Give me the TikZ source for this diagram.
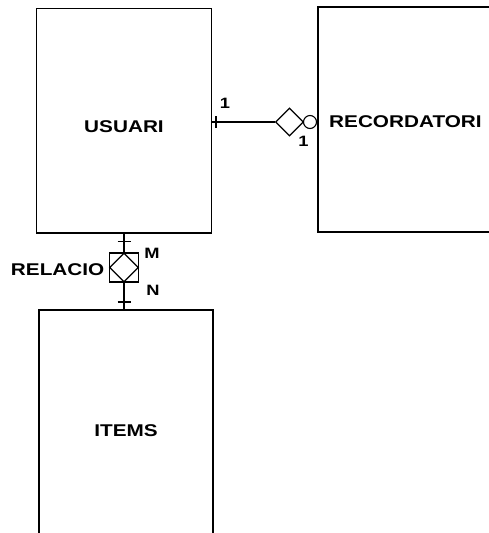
\documentclass[tikz,border=0pt]{standalone}
\usepackage{fontspec}
\setmainfont{Liberation Sans}
\newfontfamily\erfont{Liberation Sans}[FakeStretch=1.22]
\usetikzlibrary{shapes.geometric}
\begin{document}
\begin{tikzpicture}[x=1pt,y=-1pt,
  ln/.style={line width=1.1pt},
  ent/.style={draw, ln, inner sep=0pt},
  rel/.style={draw, ln, diamond, inner sep=0pt, aspect=1},
  lbl/.style={inner sep=0pt, font=\erfont\bfseries\fontsize{17}{20}\selectfont},
  card/.style={inner sep=0pt, font=\erfont\bfseries\fontsize{15}{18}\selectfont}]
\useasboundingbox (0,0) rectangle (489,533);
\fill[white] (0,0) rectangle (489,533);
\clip (0,0) rectangle (489,533);
% entities
\node[ent, minimum width=175pt, minimum height=224.5pt] (usuari) at (124,120.75) {};
\node[ent, minimum width=182pt, minimum height=225pt] (recor) at (409,119.5) {};
\node[ent, minimum width=174pt, minimum height=250pt] (items) at (126,435) {};
\node[lbl, anchor=base] (tusuari) at (124,132) {USUARI};
\node[lbl, anchor=base west] (trecor) at (329,127.5) {RECORDATORI};
\node[lbl, anchor=base] (titems) at (126,436) {ITEMS};
% relation usuari - recordatori
\node[rel, minimum width=28pt, minimum height=28pt] (d1) at (289.5,122) {};
\node[draw, ln, circle, inner sep=0pt, minimum size=13pt] (c1) at (310,122) {};
\draw[ln] (usuari.east |- d1.west) -- (d1.west);
\coordinate (t1) at (216,122);
\draw[ln] ([yshift=6pt]t1) -- ([yshift=-6pt]t1);
\node[card, anchor=base] (n1a) at (225,108) {1};
\node[card, anchor=base] (n1b) at (303.5,146) {1};
% relation usuari - items
\node[ent, minimum width=29pt, minimum height=29pt] (relbox) at (124,267.5) {};
\node[rel, minimum width=29pt, minimum height=29pt] (d2) at (relbox.center) {};
\node[lbl, anchor=base east] (trel) at (104.5,275) {RELACIO};
\draw[ln] (relbox.north |- usuari.south) -- (relbox.north);
\draw[ln] (relbox.south) -- (relbox.south |- items.north);
\coordinate (t2) at (124,241.7);
\coordinate (t3) at (124,302);
\draw[ln] ([xshift=-6.5pt]t2) -- ([xshift=6.5pt]t2);
\draw[ln] ([xshift=-6.5pt]t3) -- ([xshift=6.5pt]t3);
\node[card, anchor=base] (nm) at (152,258) {M};
\node[card, anchor=base] (nn) at (153,295) {N};
\end{tikzpicture}
\end{document}
